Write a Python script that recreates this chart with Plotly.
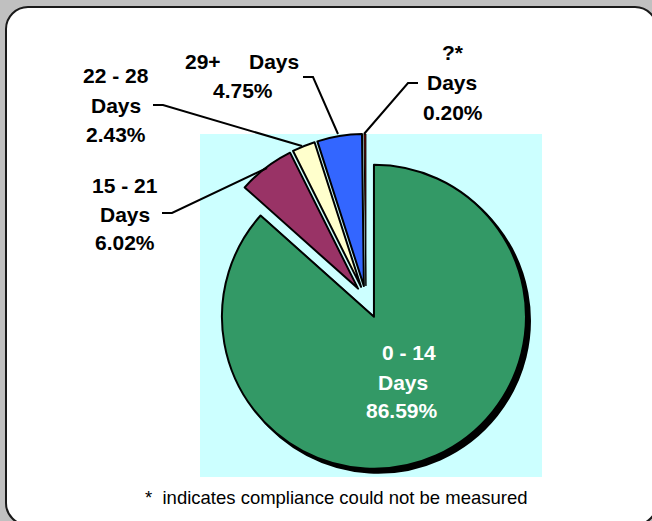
import plotly.graph_objects as go

# ---------------------------------------------------------------------------
# Data
# ---------------------------------------------------------------------------
categories = ["0 - 14", "15 - 21", "22 - 28", "29+", "?*"]
shares = [86.59, 6.02, 2.43, 4.75, 0.20]
slice_colors = ["#339966", "#993366", "#FFFFCC", "#3366FF", "#990000"]
pulls = [0.128, 0.086, 0.086, 0.086, 0.086]
footnote = "*  indicates compliance could not be measured"

W, H = 652, 521
FONT = "Arial, 'Liberation Sans', sans-serif"


def px(x, y):
    """Pixel position -> paper coordinates (margins are zero)."""
    return x / W, 1 - y / H


def pie_domain(cx, cy, r, max_pull, dx=0, dy=0):
    half = r * (1 + max_pull)
    x0, y1 = px(cx - half + dx, cy - half + dy)
    x1, y0 = px(cx + half + dx, cy + half + dy)
    return {"x": [x0, x1], "y": [y0, y1]}


def rounded_rect(x0, y0, x1, y1, rad):
    k = rad * 0.45
    pts = [
        ("M", [(x0 + rad, y0)]),
        ("L", [(x1 - rad, y0)]),
        ("C", [(x1 - k, y0), (x1, y0 + k), (x1, y0 + rad)]),
        ("L", [(x1, y1 - rad)]),
        ("C", [(x1, y1 - k), (x1 - k, y1), (x1 - rad, y1)]),
        ("L", [(x0 + rad, y1)]),
        ("C", [(x0 + k, y1), (x0, y1 - k), (x0, y1 - rad)]),
        ("L", [(x0, y0 + rad)]),
        ("C", [(x0, y0 + k), (x0 + k, y0), (x0 + rad, y0)]),
    ]
    out = ""
    for cmd, coords in pts:
        out += cmd + " ".join("%.5f,%.5f" % px(x, y) for x, y in coords) + " "
    return out + "Z"


def polyline(points):
    return "M" + " L".join("%.5f,%.5f" % px(x, y) for x, y in points)


# pie geometry (pixels)
CX, CY, R = 366, 299, 152
SHADOW = 4

fig = go.Figure()

# drop shadow (only the big slice casts a visible one)
shadow_fill = ["#000000"] + ["rgba(0,0,0,0)"] * (len(shares) - 1)
fig.add_trace(go.Pie(
    values=shares,
    labels=categories,
    sort=False,
    direction="clockwise",
    rotation=0,
    pull=pulls,
    domain=pie_domain(CX, CY, R, max(pulls), SHADOW, SHADOW),
    marker={"colors": shadow_fill, "line": {"color": shadow_fill, "width": 2}},
    textinfo="none",
    hoverinfo="skip",
    showlegend=False,
))

fig.add_trace(go.Pie(
    values=shares,
    labels=categories,
    sort=False,
    direction="clockwise",
    rotation=0,
    pull=pulls,
    domain=pie_domain(CX, CY, R, max(pulls)),
    marker={"colors": slice_colors,
            "line": {"color": "#000000", "width": [2, 2, 2, 2, 1]}},
    textinfo="none",
    hovertemplate="%{label} Days: %{value:.2f}%<extra></extra>",
    showlegend=False,
))

# label text lines and their pixel centres
label_lines = {
    "0 - 14": [("0 - 14", 408.5, 352.5), ("Days", 402.5, 382.5), (None, 401.5, 410)],
    "15 - 21": [("15 - 21", 125, 185), ("Days", 125, 214), (None, 125, 242.5)],
    "22 - 28": [("22 - 28", 116, 75.5), ("Days", 116, 105), (None, 116, 134.5)],
    "29+": [("29+", 203, 61.5), ("Days", 273.5, 61.5), (None, 242.5, 90)],
    "?*": [("?*", 453, 52.5), ("Days", 452, 82), (None, 452.5, 112.5)],
}
leader_lines = {
    "15 - 21": [(162, 213), (172, 213), (267, 168)],
    "22 - 28": [(153, 105), (163, 105), (302, 146)],
    "29+": [(303, 77), (313, 77), (338, 134)],
    "?*": [(418, 83), (408, 83), (364, 134)],
}

annotations = []
for cat, val in zip(categories, shares):
    color = "#FFFFFF" if cat == "0 - 14" else "#000000"
    for text, x, y in label_lines[cat]:
        ax, ay = px(x, y)
        annotations.append(dict(
            text=text if text else f"{val:.2f}%",
            x=ax, y=ay, xref="paper", yref="paper",
            xanchor="center", yanchor="middle", showarrow=False,
            font={"family": FONT, "size": 21, "color": color, "weight": "bold"},
        ))

fx, fy = px(336.5, 497)
annotations.append(dict(
    text=footnote, x=fx, y=fy, xref="paper", yref="paper",
    xanchor="center", yanchor="middle", showarrow=False,
    font={"family": FONT, "size": 18.5, "color": "#000000"},
))

cx0, cy1 = px(200, 134)
cx1, cy0 = px(542, 477)
shapes = [
    dict(type="path", path=rounded_rect(6, 7, 657, 525, 22), xref="paper", yref="paper",
         fillcolor="#FFFFFF", line={"color": "#1a1a1a", "width": 2}, layer="below"),
    dict(type="rect", x0=cx0, x1=cx1, y0=cy0, y1=cy1, xref="paper", yref="paper",
         fillcolor="#CCFFFF", line={"width": 0}, layer="below"),
]
for cat, pts in leader_lines.items():
    shapes.append(dict(type="path", path=polyline(pts), xref="paper", yref="paper",
                       line={"color": "#000000", "width": 2}, layer="above"))

fig.update_layout(
    width=W,
    height=H,
    margin={"l": 0, "r": 0, "t": 0, "b": 0},
    paper_bgcolor="#C0C0C0",
    plot_bgcolor="#C0C0C0",
    font={"family": FONT},
    shapes=shapes,
    annotations=annotations,
    showlegend=False,
)

# the page's default body margin would shift the chart by 8px
fig.write_html(
    "out.html",
    config={"displayModeBar": False},
    post_script="document.body.style.margin='0';document.body.style.background='#C0C0C0';",
)
